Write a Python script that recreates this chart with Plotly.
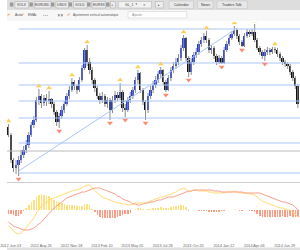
import plotly.graph_objects as go
import pandas as pd

# ---------------- data ----------------
dates = pd.date_range("2012-05-06", periods=115, freq="7D")
first_open = 73
close = [65, 40, 32, 35, 40, 45, 50, 55, 65, 75, 80, 100, 104, 97, 102, 99, 101, 96, 88, 78,
         84, 90, 96, 104, 110, 118, 114, 110, 120, 132, 150, 138, 130, 120, 112, 104, 100, 104, 96, 100,
         90, 100, 105, 102, 108, 92, 90, 100, 104, 110, 120, 127, 110, 98, 90, 104, 110, 115, 120, 126,
         130, 118, 110, 122, 130, 134, 138, 142, 152, 162, 142, 128, 138, 145, 148, 156, 160, 164, 160, 150,
         152, 144, 138, 142, 137, 150, 156, 162, 166, 170, 164, 158, 154, 164, 168, 166, 168, 160, 152, 148,
         144, 148, 150, 148, 151, 150, 146, 142, 138, 136, 134, 128, 122, 114, 96]
high = [76, 67, 42, 40, 44, 50, 54, 60, 68, 78, 84, 103, 111, 106, 105, 106, 109, 102, 98, 90,
        87, 94, 99, 107, 114, 122, 120, 116, 123, 135, 152, 155, 142, 133, 122, 114, 107, 108, 106, 103,
        102, 104, 109, 108, 117, 110, 96, 103, 108, 113, 123, 130, 128, 112, 100, 107, 114, 119, 124, 129,
        133, 131, 120, 125, 133, 138, 142, 146, 155, 165, 163, 144, 141, 148, 152, 159, 163, 167, 169, 162,
        155, 154, 146, 145, 144, 153, 159, 165, 169, 174, 172, 166, 160, 167, 171, 170, 171, 176, 162, 154,
        150, 151, 153, 152, 153, 153, 152, 148, 144, 140, 138, 136, 130, 124, 116]
low = [63, 37, 28, 26, 24, 37, 42, 47, 52, 63, 72, 78, 95, 92, 94, 94, 96, 92, 85, 74,
       72, 81, 87, 94, 101, 108, 110, 106, 108, 118, 130, 134, 126, 116, 108, 101, 96, 97, 93, 92,
       80, 87, 97, 99, 100, 88, 83, 88, 97, 101, 107, 116, 107, 95, 80, 87, 101, 107, 112, 117,
       122, 115, 108, 109, 119, 127, 131, 135, 139, 149, 139, 123, 125, 135, 142, 145, 153, 157, 157, 147,
       146, 141, 135, 136, 136, 136, 148, 154, 160, 164, 161, 155, 153, 153, 162, 163, 164, 158, 150, 145,
       141, 139, 145, 145, 146, 147, 143, 139, 135, 133, 131, 125, 119, 111, 92]
macd = [-16, -18, -21, -23, -24, -23, -21, -18, -15, -11, -8, -3, 1, 4, 6, 8, 10, 11, 12, 13,
        14, 15, 16, 17, 18, 19, 20, 20, 21, 22, 24, 25, 25, 22, 20, 17, 15, 13, 12, 11,
        10, 9, 8, 7, 7, 6, 6, 5, 5, 6, 7, 7, 7, 7, 7, 8, 9, 10, 11, 12,
        13, 13, 14, 15, 16, 17, 18, 20, 21, 22, 21, 18, 19, 20, 20, 19, 19, 19, 19, 18,
        18, 17, 17, 17, 17, 17, 18, 18, 18, 19, 18, 17, 17, 17, 17, 16, 16, 15, 13, 11,
        9, 8, 7, 6, 5, 4, 3, 2, 2, 1, 0, 0, -2, -4, -7]
signal = [-12, -14, -16, -17, -18, -19, -20, -20, -20, -19, -18, -16, -14, -12, -9, -6, -4, -1, 2, 4,
          6, 8, 10, 12, 13, 14, 15, 16, 17, 18, 18, 19, 20, 21, 22, 22, 22, 21, 20, 19,
          18, 17, 16, 14, 13, 11, 10, 9, 8, 6, 6, 5, 5, 6, 7, 7, 8, 8, 9, 10,
          10, 11, 12, 13, 13, 13, 14, 15, 16, 17, 18, 19, 19, 20, 20, 20, 20, 20, 20, 20,
          20, 19, 19, 19, 18, 18, 18, 18, 18, 18, 18, 18, 18, 17, 17, 17, 17, 17, 17, 17,
          16, 15, 14, 13, 12, 11, 10, 9, 8, 8, 7, 6, 5, 3, 0]
up_fractals = [0, 12, 16, 25, 31, 44, 51, 60, 69, 78, 89, 97, 105]
down_fractals = [4, 20, 40, 46, 54, 62, 71, 84, 92, 101]
levels = [171, 137, 115, 99, 82, 57, 27]
gray_level = 49
trend_idx = [4, 89]
trend_val = [29, 170]
tick_dates = ["2012-06-03", "2012-08-26", "2012-11-18", "2013-02-10", "2013-05-05",
              "2013-07-28", "2013-10-20", "2014-01-12", "2014-04-06", "2014-06-29"]
tabs = ["VOLX", "EURUSD", "USDX", "GOLD", "EURSX"]
menu = ["Calendar", "News", "Traders Talk"]

# ---------------- derived ----------------
opens = [first_open] + close[:-1]
hist = [m - s for m, s in zip(macd, signal)]
W, H = 300, 250
def xp(x): return x / W
def yp(y): return 1 - y / H
FONT = "Arial"

fig = go.Figure()

# wicks
wx, wy = [], []
for d, h, l in zip(dates, high, low):
    wx += [d, d, None]; wy += [l, h, None]
fig.add_trace(go.Scatter(x=wx, y=wy, mode="lines", line=dict(color="#8a8a8a", width=1),
                         hoverinfo="skip", showlegend=False, xaxis="x", yaxis="y"))
# bodies
bull = [c >= o for o, c in zip(opens, close)]
for is_bull, col in [(True, "#1f3cf5"), (False, "#111111")]:
    xs = [d for d, b in zip(dates, bull) if b == is_bull]
    base = [min(o, c) for o, c, b in zip(opens, close, bull) if b == is_bull]
    size = [max(abs(c - o), 0.8) for o, c, b in zip(opens, close, bull) if b == is_bull]
    fig.add_trace(go.Bar(x=xs, y=size, base=base, width=5.0 * 86400000, marker_color=col,
                         marker_line_width=0, showlegend=False, xaxis="x", yaxis="y"))

# levels
for lv in levels:
    fig.add_trace(go.Scatter(x=[dates[4], dates[-1] + pd.Timedelta(days=10)], y=[lv, lv], mode="lines",
                             line=dict(color="#a9c7f7", width=1), showlegend=False,
                             hoverinfo="skip", xaxis="x", yaxis="y"))
fig.add_trace(go.Scatter(x=[dates[0] - pd.Timedelta(days=10), dates[-1] + pd.Timedelta(days=10)],
                         y=[gray_level, gray_level], mode="lines",
                         line=dict(color="#b8b8b8", width=1), showlegend=False,
                         hoverinfo="skip", xaxis="x", yaxis="y"))
fig.add_trace(go.Scatter(x=[dates[i] for i in trend_idx], y=trend_val, mode="lines",
                         line=dict(color="#a9c7f7", width=1), showlegend=False,
                         hoverinfo="skip", xaxis="x", yaxis="y"))

# fractals
fig.add_trace(go.Scatter(x=[dates[i] for i in up_fractals], y=[high[i] + 3 for i in up_fractals],
                         mode="markers", marker=dict(symbol="triangle-up", size=5, color="#ffcf5a"),
                         showlegend=False, xaxis="x", yaxis="y"))
fig.add_trace(go.Scatter(x=[dates[i] for i in down_fractals], y=[low[i] - 3 for i in down_fractals],
                         mode="markers", marker=dict(symbol="triangle-down", size=5, color="#ff8a70"),
                         showlegend=False, xaxis="x", yaxis="y"))

# MACD
fig.add_trace(go.Bar(x=list(dates), y=hist, width=1.6 * 86400000,
                     marker_color=["#ffe07a" if h >= 0 else "#ff9b85" for h in hist],
                     marker_line_width=0, showlegend=False, xaxis="x2", yaxis="y2"))
fig.add_trace(go.Scatter(x=list(dates), y=macd, mode="lines", line=dict(color="#ffdc70", width=1),
                         showlegend=False, xaxis="x2", yaxis="y2"))
fig.add_trace(go.Scatter(x=list(dates), y=signal, mode="lines", line=dict(color="#f7a08c", width=1),
                         showlegend=False, xaxis="x2", yaxis="y2"))

xrange = ["2012-05-02", "2014-07-19"]
shapes = []
annotations = []
def rect(x0, x1, y0, y1, fill, line=None):
    shapes.append(dict(type="rect", xref="paper", yref="paper", x0=xp(x0), x1=xp(x1),
                       y0=yp(y1), y1=yp(y0), fillcolor=fill, layer="above",
                       line=dict(color=line, width=0.5) if line else dict(width=0)))
def text(t, x, y, size=3.4, color="#333", anchor="center"):
    annotations.append(dict(text=t, x=xp(x), y=yp(y), xref="paper", yref="paper", xanchor=anchor,
                            yanchor="middle", showarrow=False,
                            font=dict(size=size, color=color, family=FONT)))

# top toolbar
rect(0, 300, 0, 10, "#dddddd")
rect(0, 300, 10, 21, "#f7f7f7")
tab_x = [8, 28, 50, 68, 87]
tab_w = [14, 17, 13, 14, 14]
for t, x0, w in zip(tabs, tab_x, tab_w):
    rect(x0 - 5, x0 - 1.5, 2.5, 6.5, "#9a9a9a")
    rect(x0, x0 + w, 1.5, 8, "#eeeeee", "#a8a8a8")
    text(t, x0 + w / 2, 4.8)
rect(101.5, 105, 2.5, 6.5, "#9a9a9a")
rect(106, 111, 1.5, 8, "#eeeeee", "#a8a8a8")
text("+", 108.5, 4.8, size=4)
rect(114, 148, 1.5, 8, "#f2f2f2", "#b0b0b0")
text("GL_1", 119, 4.8, anchor="left")
text("▼", 133, 4.8, size=2.6)
text("✕", 141, 4.8, size=2.8)
rect(152, 160, 1.5, 8, "#eeeeee", "#a8a8a8")
text("▸", 156, 4.8, size=3)
menu_x = [166, 195, 215]
menu_w = [25, 16, 31]
for t, x0, w in zip(menu, menu_x, menu_w):
    rect(x0, x0 + w, 1, 8.5, "#e8e8e8", "#c0c0c0")
    text(t, x0 + w / 2, 4.8, size=3.6)
# second toolbar
for xo in [2, 16, 63]:
    text("✔", xo, 15, size=3.6, color="#f08020")
text("Auto", 6, 15, color="#555", anchor="left")
text("EMA", 19.5, 15, color="#555", anchor="left")
text("▾", 30, 15, size=3, color="#555")
text("▪ ▪ ▪", 39, 15, size=3, color="#666")
text("▮ ▮", 55, 15, size=3.2, color="#666")
text("Ajustement vertical automatique", 66, 15, size=3.2, color="#555", anchor="left")
rect(124, 184, 11.5, 18, "#ffffff", "#c8c8c8")
text("Ajouter", 126, 15, size=3.2, color="#888", anchor="left")
# panel separator and bottom strip
shapes.append(dict(type="line", xref="paper", yref="paper", x0=0, x1=1, y0=yp(182.5), y1=yp(182.5),
                   line=dict(color="#cfcfcf", width=1), layer="above"))
rect(0, 300, 247.5, 250, "#e0e0e0")

fig.update_layout(
    width=W, height=H, margin=dict(l=0, r=0, t=0, b=0),
    paper_bgcolor="white", plot_bgcolor="white", barmode="overlay", bargap=0,
    shapes=shapes, annotations=annotations, showlegend=False,
    xaxis=dict(domain=[0, 1], anchor="y", range=xrange, showgrid=False, showticklabels=False,
               zeroline=False, showline=False, ticks=""),
    xaxis2=dict(domain=[0, 1], anchor="y2", range=xrange, matches="x", showgrid=False,
                tickvals=tick_dates, tickformat="%Y %b %d", ticks="", showline=False,
                ticklabeloverflow="allow", ticklabelstandoff=4, ticklabelshift=-8,
                tickfont=dict(size=3.8, color="#666", family=FONT)),
    yaxis=dict(domain=[yp(182), yp(22)], range=[18, 178], showgrid=False, showticklabels=False,
               zeroline=False, showline=False),
    yaxis2=dict(domain=[yp(238), yp(183)], range=[-28, 27], showgrid=False, showticklabels=False,
                zeroline=False, showline=False),
)
fig.write_html("out.html")
